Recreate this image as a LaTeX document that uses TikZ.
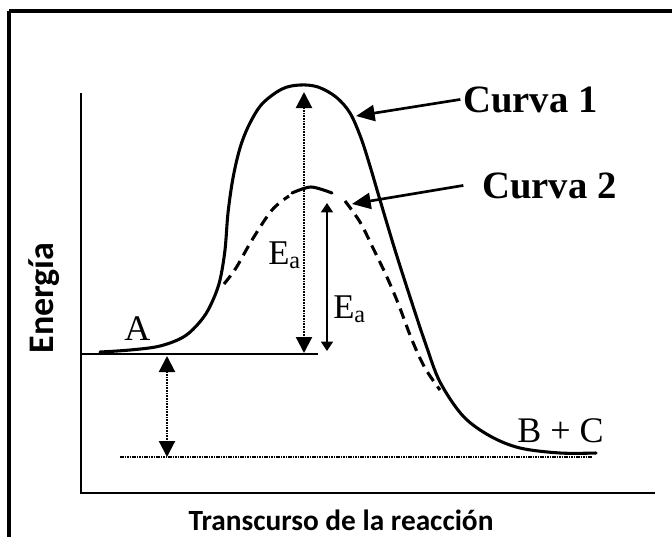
\documentclass[tikz,border=0pt]{standalone}
\usepackage{fontspec}
\setmainfont{Liberation Serif}
\newfontfamily\carlito{Carlito}
\usetikzlibrary{arrows.meta}

\begin{document}
\begin{tikzpicture}[
  x=0.75pt, y=-0.75pt,
  frame/.style={line width=2.3pt},
  axis/.style={line width=1.4pt},
  curve/.style={line width=2.3pt, line cap=round},
  dashcurve/.style={line width=2.3pt, dash pattern=on 8pt off 5pt},
  level/.style={line width=1.4pt},
  dotlevel/.style={line width=1.4pt, dash pattern=on 1.2pt off 0.6pt},
  lbl/.style={font=\fontsize{27}{27}\selectfont, inner sep=0pt},
  ealbl/.style={font=\fontsize{26}{26}\selectfont, inner sep=0pt},
  curvelbl/.style={font=\fontsize{29}{29}\selectfont\bfseries, inner sep=0pt},
  axlbl/.style={font=\carlito\bfseries\fontsize{22}{22}\selectfont, inner sep=0pt},
  dimarrow/.style={{Triangle[length=12pt,width=12pt]}-{Triangle[length=12pt,width=12pt]},
                   line width=1.6pt, dash pattern=on 1.2pt off 0.8pt},
  thinarrow/.style={{Triangle[length=7pt,width=9pt]}-{Triangle[length=7pt,width=9pt]}, line width=0.9pt},
  pointer/.style={-{Triangle[length=14pt,width=12pt]}, line width=2pt}
]
\useasboundingbox (0,0) rectangle (672,537);

% cornice
\draw[frame] (9,11) -- (672,11);
\draw[frame] (9,11) -- (9,537);

% assi
\coordinate (o) at (81,493);
\draw[axis] (81,93) -- (o) -- (655,493);
\node[axlbl, rotate=90, font=\carlito\bfseries\fontsize{27}{27}\selectfont] (ylbl) at (44,298) {Energía};
\node[axlbl, anchor=base] (xlbl) at (341,530) {Transcurso de la reacción};

% livelli
\draw[level] (81,354) -- (318,354);
\draw[dotlevel] (120,457) -- (592,457);

% curva 1
\draw[curve] plot[smooth, tension=0.55] coordinates {
  (100,352) (130,350) (160,346) (185,336) (203,318) (213,300) (220,280)
  (225,250) (228,213) (233,178) (240,148) (249,125) (262,104) (282,89)
  (300,85) (318,87) (336,97) (350,113) (361,138) (370,166) (380,200)
  (395,250) (411,300) (426,345) (440,382) (463,416) (490,436) (520,448)
  (560,453) (596,453)};

% curva 2
\draw[dashcurve] plot[smooth, tension=0.55] coordinates {
  (224,284) (236,268) (252,240) (272,210) (289,196)};
\draw[curve] plot[smooth] coordinates {(292,193) (311,187) (332,193)};
\draw[dashcurve] plot[smooth, tension=0.55] coordinates {
  (345,201) (360,222) (373,248) (386,275) (398,303) (412,340) (425,368) (440,390)};

% energie di attivazione
\coordinate (ts1) at (304,92);
\coordinate (ea1b) at (304,353);
\coordinate (ts2) at (327,203);
\coordinate (ea2b) at (327,351);
\draw[dimarrow] (ts1) -- (ea1b);
\draw[thinarrow] (ts2) -- (ea2b);
\node[ealbl, anchor=base west] (ea1) at (268,264) {E\textsubscript{a}};
\node[ealbl, anchor=base west] (ea2) at (333,318) {E\textsubscript{a}};

% differenza di energia
\coordinate (dha) at (167,356);
\coordinate (dhb) at (167,457);
\draw[dimarrow] (dha) -- (dhb);

% etichette
\node[lbl, anchor=base west] (a) at (124,340) {A};
\node[lbl, anchor=base west] (bc) at (517,442) {B + C};
\node[curvelbl, anchor=base west] (c1lbl) at (463,112) {Curva 1};
\node[curvelbl, anchor=base west] (c2lbl) at (482,198) {Curva 2};
\coordinate (c1tip) at (356,116);
\coordinate (c2tip) at (352,204);
\draw[pointer] ([xshift=-2pt]c1lbl.west) -- (c1tip);
\draw[pointer] ([xshift=-14pt]c2lbl.west) -- (c2tip);
\end{tikzpicture}
\end{document}
